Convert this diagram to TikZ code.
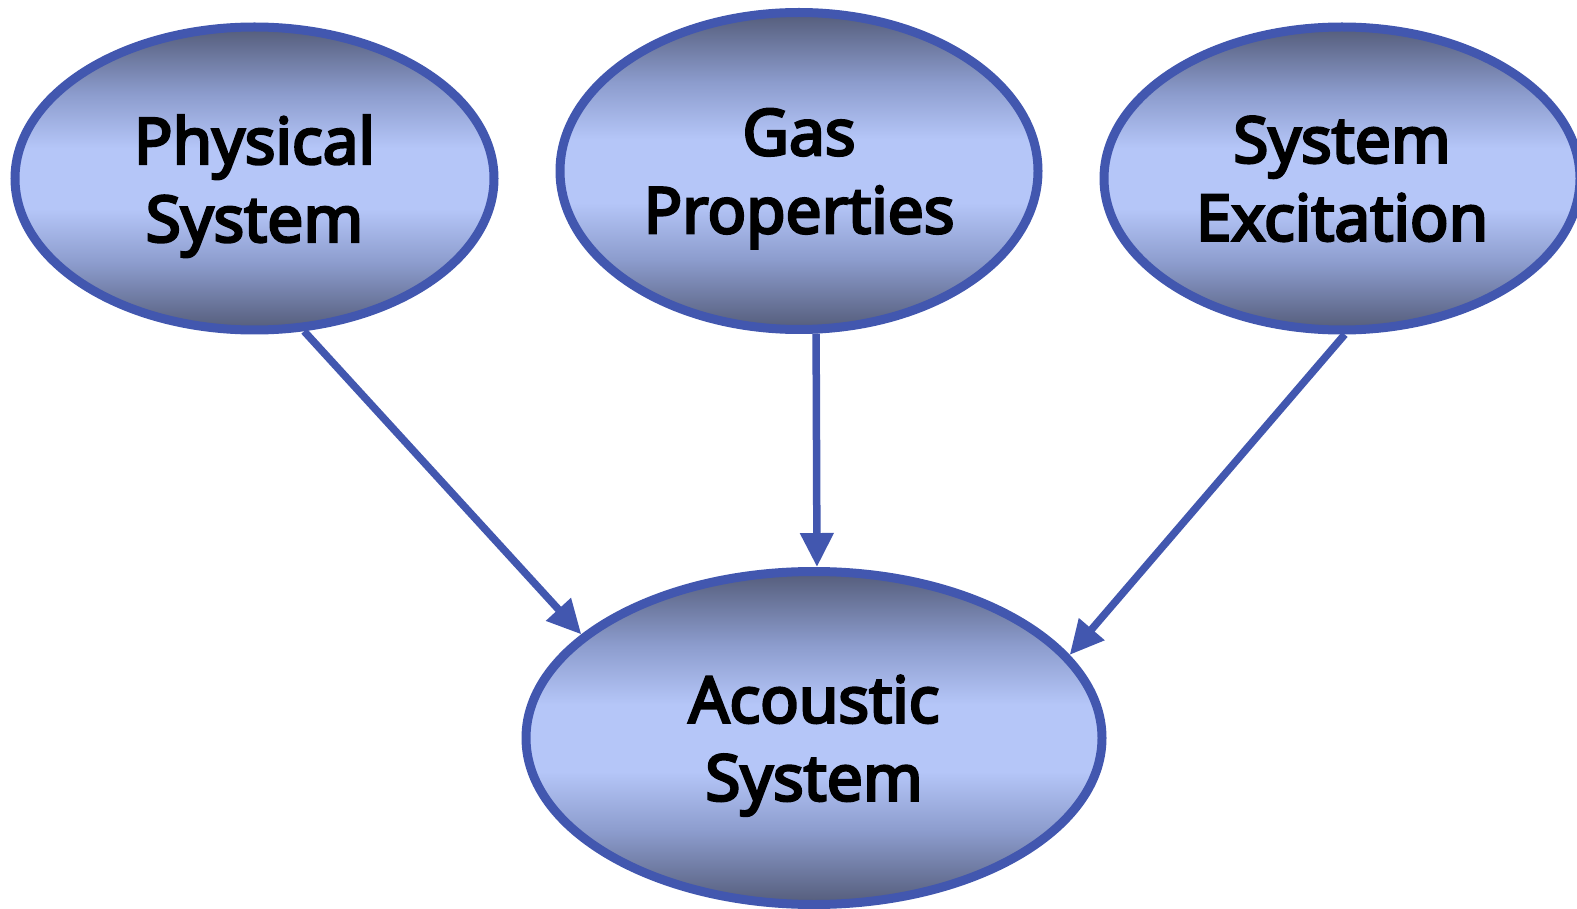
\documentclass[tikz,border=0pt]{standalone}
\usepackage{fontspec}
\newfontfamily\lblfont{Noto Sans}[FakeBold=4]
\usetikzlibrary{shapes.geometric,arrows.meta}
\definecolor{bordc}{RGB}{66,87,175}
\definecolor{dk}{RGB}{84,92,122}
\definecolor{md}{RGB}{140,156,205}
\definecolor{lt}{RGB}{181,198,248}
\pgfdeclareverticalshading{ellshade}{100bp}{color(0bp)=(dk); color(25bp)=(dk); color(36bp)=(md); color(45bp)=(lt); color(55bp)=(lt); color(64bp)=(md); color(75bp)=(dk); color(100bp)=(dk)}
\tikzset{
  ell/.style={ellipse, draw=bordc, line width=9pt, shading=ellshade, inner sep=0pt,
    align=center, text depth=0pt, font=\lblfont\fontsize{64}{78}\selectfont},
  arr/.style={draw=bordc, line width=7.5pt, -{Triangle[length=34pt,width=32pt]}}
}
\begin{document}
\begin{tikzpicture}[x=1pt,y=-1pt]
\useasboundingbox (0,0) rectangle (1577,909);
\node[ell, minimum width=479pt, minimum height=303pt] (phys) at (254.5,178.5) {Physical\\System};
\node[ell, minimum width=478pt, minimum height=317pt] (gas) at (799,171) {Gas\\Properties};
\node[ell, minimum width=476pt, minimum height=303pt] (exc) at (1342,178.5) {System\\Excitation};
\node[ell, minimum width=576pt, minimum height=333pt] (ac) at (814,738) {Acoustic\\System};
\draw[arr] (phys.-72.5) -- (ac.156.7);
\draw[arr] (gas.-84.3) -- (ac.89.7);
\draw[arr] (exc.-89.6) -- (ac.18.1);
\end{tikzpicture}
\end{document}
